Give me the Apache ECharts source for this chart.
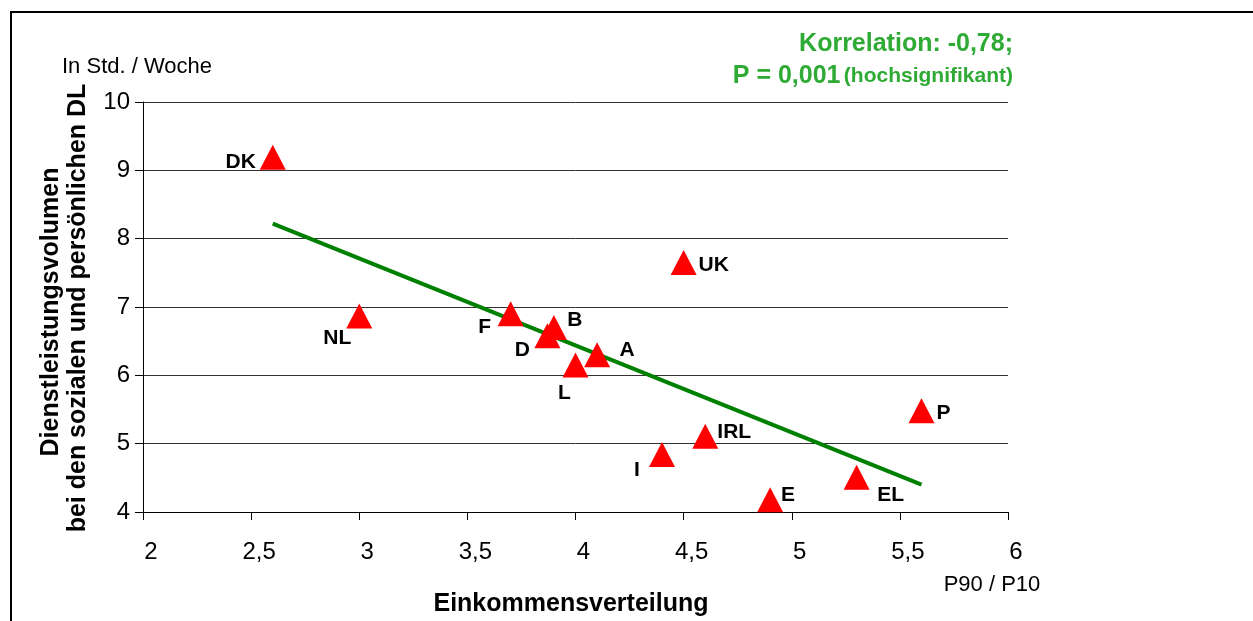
<!DOCTYPE html>
<html>
<head>
<meta charset="utf-8">
<script src="https://cdn.jsdelivr.net/npm/echarts@6/dist/echarts.min.js"></script>
<style>
  html, body { margin: 0; padding: 0; background: #fff; }
  #main { width: 1253px; height: 621px; }
</style>
</head>
<body>
<div id="main"></div>
<script>
var myChart = echarts.init(document.getElementById('main'), null, {renderer: 'canvas'});

// data
var countries = ['DK', 'NL', 'F', 'B', 'D', 'A', 'L', 'UK', 'I', 'IRL', 'E', 'EL', 'P'];
var einkommen = [2.6, 3.0, 3.7, 3.9, 3.87, 4.1, 4.0, 4.5, 4.4, 4.6, 4.9, 5.3, 5.6];
var volumen = [9.19, 6.87, 6.9, 6.7, 6.58, 6.3, 6.15, 7.65, 4.84, 5.11, 4.18, 4.51, 5.48];
var trendX = [2.6, 5.6];
var trendY = [8.22, 4.4];

// label offsets from marker centre (px)
var labelOffsets = {
    DK: [-32, 5], NL: [-22, 22], F: [-26, 13], B: [21, -7], D: [-25, 15],
    A: [30, -5], L: [-11, 28], UK: [30, 3], I: [-25, 16], IRL: [29, -4],
    E: [18, -4], EL: [34, 18], P: [22, 2]
};

var font = 'Liberation Sans, Arial, sans-serif';

var points = countries.map(function (c, i) {
    return {
        name: c,
        value: [einkommen[i], volumen[i]],
        label: { offset: labelOffsets[c] }
    };
});

var option = {
    backgroundColor: '#fff',
    animation: false,
    grid: { left: 143, right: 245, top: 102, bottom: 109 },
    xAxis: {
        type: 'value',
        min: 2, max: 6, interval: 0.5,
        axisLine: { lineStyle: { color: '#000', width: 1 } },
        axisTick: { show: true, length: 8, lineStyle: { color: '#000' } },
        splitLine: { show: false },
        axisLabel: {
            color: '#000', fontSize: 24, fontFamily: font, margin: 28,
            padding: [0, 0, 0, 16],
            formatter: function (v) { return String(v).replace('.', ','); }
        }
    },
    yAxis: {
        type: 'value',
        min: 4, max: 10, interval: 1,
        axisLine: { show: true, lineStyle: { color: '#000', width: 1 } },
        axisTick: { show: true, length: 8, lineStyle: { color: '#000' } },
        splitLine: { show: true, lineStyle: { color: '#333', width: 1 } },
        axisLabel: { color: '#000', fontSize: 24, fontFamily: font, margin: 13 }
    },
    series: [
        {
            type: 'line',
            data: trendX.map(function (x, i) { return [x, trendY[i]]; }),
            symbol: 'none',
            lineStyle: { color: '#008000', width: 4 },
            z: 3
        },
        {
            type: 'scatter',
            data: points,
            symbol: 'triangle',
            symbolSize: [26, 25],
            itemStyle: { color: '#ff0000', opacity: 1 },
            label: {
                show: true,
                position: 'inside',
                formatter: '{b}',
                color: '#000',
                fontSize: 21,
                fontWeight: 'bold',
                fontFamily: font,
                align: 'center',
                verticalAlign: 'middle'
            },
            z: 4
        }
    ],
    graphic: [
        {
            type: 'rect',
            shape: { x: 11, y: 12, width: 1400, height: 800 },
            style: { fill: 'none', stroke: '#000', lineWidth: 2 }
        },
        {
            type: 'text', left: 62, top: 56,
            style: { text: 'In Std. / Woche', font: '22px ' + font, fill: '#000' }
        },
        {
            type: 'text', x: 51, y: 312, rotation: Math.PI / 2,
            style: {
                text: 'Dienstleistungsvolumen', font: 'bold 25px ' + font, fill: '#000',
                align: 'center', verticalAlign: 'middle'
            }
        },
        {
            type: 'text', x: 78, y: 308, rotation: Math.PI / 2,
            style: {
                text: 'bei den sozialen und persönlichen DL', font: 'bold 25px ' + font, fill: '#000',
                align: 'center', verticalAlign: 'middle'
            }
        },
        {
            type: 'text', x: 571, y: 604,
            style: {
                text: 'Einkommensverteilung', font: 'bold 25px ' + font, fill: '#000',
                align: 'center', verticalAlign: 'middle'
            }
        },
        {
            type: 'text', x: 992, y: 585,
            style: {
                text: 'P90 / P10', font: '22px ' + font, fill: '#000',
                align: 'center', verticalAlign: 'middle'
            }
        },
        {
            type: 'text', x: 1013, y: 44,
            style: {
                text: 'Korrelation: -0,78;', font: 'bold 25px ' + font, fill: '#2eaa35',
                align: 'right', verticalAlign: 'middle'
            }
        },
        {
            type: 'text', x: 1013, y: 76,
            style: {
                text: '{a|P = 0,001} {b|(hochsignifikant)}',
                align: 'right', verticalAlign: 'middle',
                rich: {
                    a: { font: 'bold 25px ' + font, fill: '#2eaa35', color: '#2eaa35' },
                    b: { font: 'bold 21px ' + font, fill: '#2eaa35', color: '#2eaa35' }
                },
                fill: '#2eaa35'
            }
        }
    ]
};

myChart.setOption(option);
</script>
</body>
</html>
